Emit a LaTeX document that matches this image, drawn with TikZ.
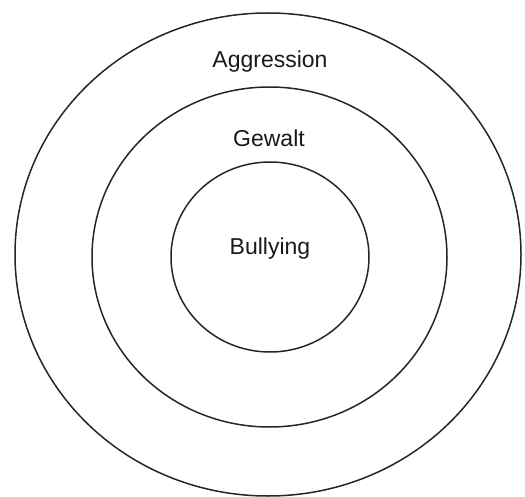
\documentclass[tikz,border=0pt]{standalone}
\usepackage{fontspec}
\setmainfont{Liberation Sans}
\usetikzlibrary{positioning, shapes.geometric}

\tikzstyle{ring} = [
    ellipse,
    draw=black!85,
    line width=1.5pt,
    inner sep=0pt
    ]
\tikzstyle{ringLabel} = [
    anchor=base,
    inner sep=0pt,
    text=black!90,
    font=\fontsize{23}{27}\selectfont
    ]

\begin{document}
\begin{tikzpicture}[x=1pt, y=-1pt]
      \useasboundingbox (0,0) rectangle (525,497);
      % three nested rings
      \node[ring, minimum width=506pt, minimum height=483pt] at (268,254.5) (aggression) {};
      \node[ring, minimum width=355pt, minimum height=340pt] at (269.5,257) (gewalt) {};
      \node[ring, minimum width=198pt, minimum height=190pt] at (270,257) (bullying) {};
      % labels sit near the top of each ring
      \node[ringLabel] at (270,67.5) (aggressionText) {Aggression};
      \node[ringLabel] at (269,147) (gewaltText) {Gewalt};
      \node[ringLabel] at (270,254.5) (bullyingText) {Bullying};
    \end{tikzpicture}
\end{document}
